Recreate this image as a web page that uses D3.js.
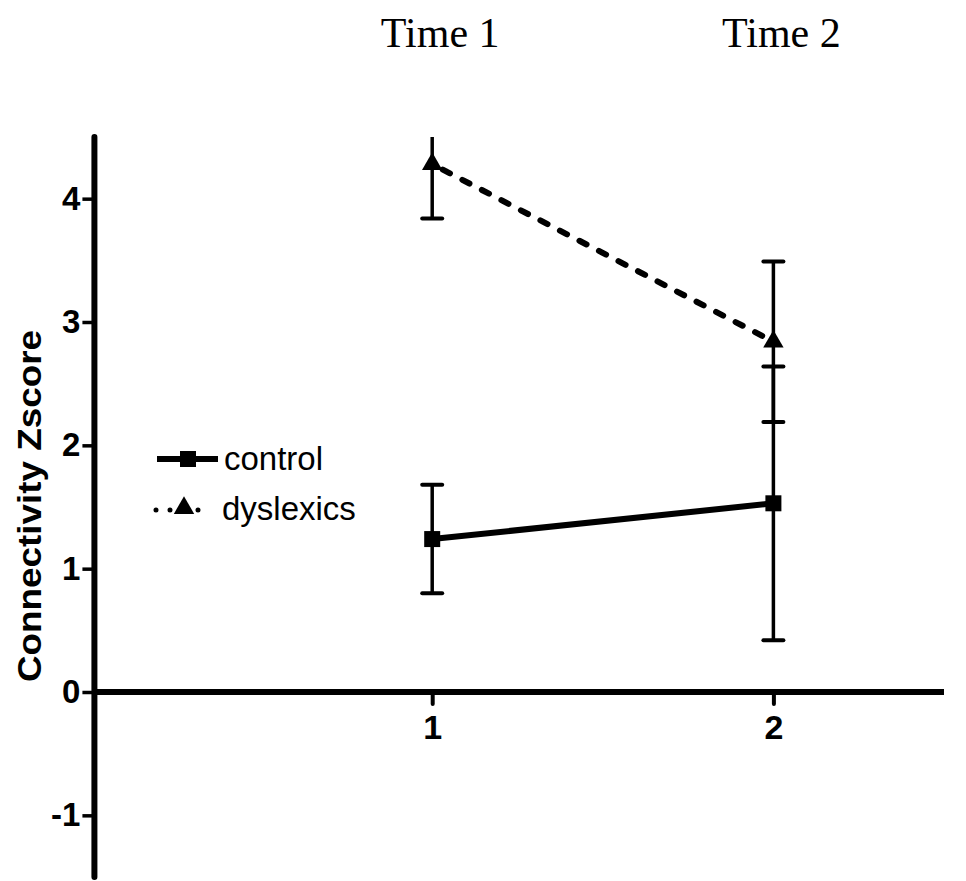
<!DOCTYPE html>
<html>
<head>
<meta charset="utf-8">
<script src="https://cdn.jsdelivr.net/npm/d3@7"></script>
<style>
  body { margin: 0; background: #fff; }
  svg { display: block; }
</style>
</head>
<body>
<svg id="chart" width="966" height="881"></svg>
<script>
// data
var times = [1, 2];
var timeLabels = ['Time 1', 'Time 2'];
var controlMean = [1.24, 1.53];
var controlErr = [0.44, 1.11];
var dyslexicMean = [4.28, 2.84];
var dyslexicErr = [0.44, 0.65];
var yTicks = [-1, 0, 1, 2, 3, 4];
var xTicks = [1, 2];

var svg = d3.select('#chart');

var x = d3.scaleLinear().domain([0, 2.5]).range([91, 944]);
var y = d3.scaleLinear().domain([-1.5, 4.5]).range([877, 137]);

// plain hyphen for negatives, like the original
var fmt = function(d) { return String(d); };

// y axis
var yAxis = svg.append('g')
  .attr('transform', 'translate(' + x(0.01) + ',0)')
  .call(d3.axisLeft(y).tickValues(yTicks).tickSize(12).tickPadding(2).tickFormat(fmt));
yAxis.select('.domain').attr('d', 'M0,' + y(4.5) + 'V' + y(-1.5)).attr('stroke-width', 6).attr('stroke-linecap', 'round');
yAxis.selectAll('.tick line').attr('stroke-width', 3.5);
yAxis.selectAll('.tick text')
  .attr('font-family', 'Liberation Sans, Arial, sans-serif')
  .attr('font-weight', 'bold').attr('font-size', 33).attr('fill', '#000');

// x axis at zero
var xAxis = svg.append('g')
  .attr('transform', 'translate(0,' + y(0) + ')')
  .call(d3.axisBottom(x).tickValues(xTicks).tickSize(12).tickPadding(11).tickFormat(fmt));
xAxis.select('.domain').attr('d', 'M' + x(0.01) + ',0H' + x(2.5)).attr('stroke-width', 6);
xAxis.selectAll('.tick line').attr('stroke-width', 4).attr('stroke-linecap', 'round');
xAxis.selectAll('.tick text')
  .attr('font-family', 'Liberation Sans, Arial, sans-serif')
  .attr('font-weight', 'bold').attr('font-size', 34).attr('fill', '#000');

// y axis title (stretched along its length in the original)
svg.append('text')
  .attr('transform', 'translate(41,506) rotate(-90)')
  .attr('text-anchor', 'middle')
  .attr('font-family', 'Liberation Sans, Arial, sans-serif')
  .attr('font-weight', 'bold').attr('font-size', 33)
  .attr('textLength', 352).attr('lengthAdjust', 'spacingAndGlyphs')
  .text('Connectivity Zscore');

// time labels at the top
svg.selectAll('.timelab')
  .data(times)
  .enter().append('text')
  .attr('class', 'timelab')
  .attr('x', function(d) { return x(d) + 8; })
  .attr('y', 47)
  .attr('text-anchor', 'middle')
  .attr('font-family', 'Liberation Serif, Times New Roman, serif')
  .attr('font-size', 42)
  .text(function(d, i) { return timeLabels[i]; });

svg.append('clipPath').attr('id', 'plot')
  .append('rect').attr('x', 0).attr('y', y(4.5)).attr('width', 966).attr('height', y(-1.5) - y(4.5));

function errorBars(mean, err) {
  var g = svg.append('g').attr('clip-path', 'url(#plot)');
  times.forEach(function(t, i) {
    var lo = mean[i] - err[i], hi = mean[i] + err[i];
    g.append('line')
      .attr('x1', x(t)).attr('x2', x(t))
      .attr('y1', y(lo)).attr('y2', y(hi))
      .attr('stroke', '#000').attr('stroke-width', 3.5);
    [lo, hi].forEach(function(v) {
      g.append('line')
        .attr('x1', x(t) - 10).attr('x2', x(t) + 10)
        .attr('y1', y(v)).attr('y2', y(v))
        .attr('stroke', '#000').attr('stroke-width', 4).attr('stroke-linecap', 'round');
    });
  });
}

errorBars(controlMean, controlErr);
errorBars(dyslexicMean, dyslexicErr);

var line = d3.line().x(function(d, i) { return x(times[i]); }).y(function(d) { return y(d); });

// control: solid
svg.append('path').datum(controlMean)
  .attr('d', line).attr('fill', 'none').attr('stroke', '#000').attr('stroke-width', 6);
svg.selectAll('.sq')
  .data(controlMean)
  .enter().append('rect')
  .attr('class', 'sq')
  .attr('x', function(d, i) { return x(times[i]) - 8; })
  .attr('y', function(d) { return y(d) - 8; })
  .attr('width', 16).attr('height', 16).attr('fill', '#000');

// dyslexics: dashed
svg.append('path').datum(dyslexicMean)
  .attr('d', line).attr('fill', 'none').attr('stroke', '#000')
  .attr('stroke-width', 6).attr('stroke-dasharray', '8,14').attr('stroke-dashoffset', -12)
  .attr('stroke-linecap', 'round');
var tri = d3.symbol().type(d3.symbolTriangle).size(180);
svg.selectAll('.tri')
  .data(dyslexicMean)
  .enter().append('path')
  .attr('class', 'tri')
  .attr('transform', function(d, i) { return 'translate(' + x(times[i]) + ',' + y(d) + ')'; })
  .attr('d', tri).attr('fill', '#000');

// legend
var legend = svg.append('g');
legend.append('line').attr('x1', 157).attr('x2', 218).attr('y1', 459).attr('y2', 459)
  .attr('stroke', '#000').attr('stroke-width', 6);
legend.append('rect').attr('x', 180).attr('y', 451).attr('width', 16).attr('height', 16).attr('fill', '#000');
legend.append('text').attr('x', 224).attr('y', 470)
  .attr('font-family', 'Liberation Sans, Arial, sans-serif').attr('font-size', 33).text('control');

legend.append('line').attr('x1', 156).attr('x2', 212).attr('y1', 510).attr('y2', 510)
  .attr('stroke', '#000').attr('stroke-width', 5).attr('stroke-dasharray', '0,14').attr('stroke-linecap', 'round');
legend.append('path').attr('transform', 'translate(184,508)').attr('d', tri).attr('fill', '#000');
legend.append('text').attr('x', 222).attr('y', 520)
  .attr('font-family', 'Liberation Sans, Arial, sans-serif').attr('font-size', 33).text('dyslexics');
</script>
</body>
</html>
